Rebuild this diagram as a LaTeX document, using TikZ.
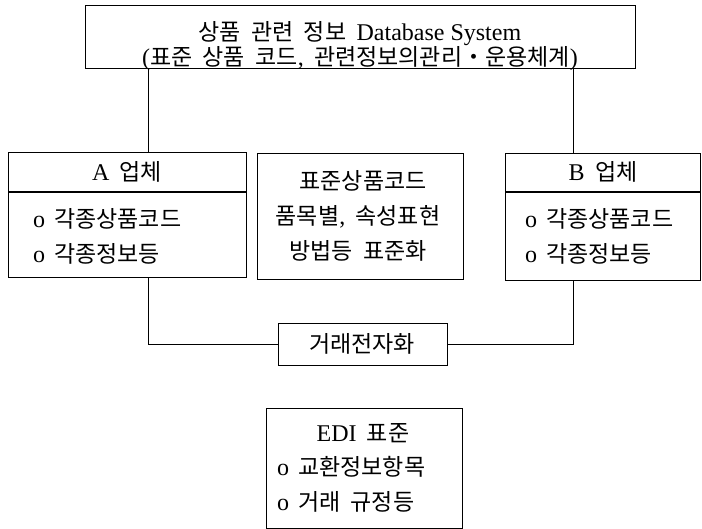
\documentclass[tikz,border=0pt]{standalone}
\usepackage{fontspec}
\setmainfont{Noto Sans CJK KR}[WordSpace=2]
\newfontfamily\latf{Liberation Serif}
\newcommand\lt[1]{{\latf\fontsize{24}{24}\selectfont #1}}
\begin{document}
\begin{tikzpicture}[x=1pt,y=-1pt,
  box/.style={draw, line width=1.3pt, inner sep=0, anchor=north west},
  conn/.style={line width=1pt},
  txt/.style={inner sep=0, font=\fontsize{23}{24.5}\selectfont},
  item/.style={txt, anchor=west}]
\useasboundingbox (0,0) rectangle (702,529);
% boxes
\node[box, minimum width=550pt, minimum height=63pt] (top) at (85,5) {};
\node[box, minimum width=238pt, minimum height=125pt] (A) at (8,152) {};
\node[box, minimum width=206pt, minimum height=126pt] (M) at (257,153) {};
\node[box, minimum width=195pt, minimum height=127pt] (B) at (505,153) {};
\node[box, minimum width=169pt, minimum height=42pt] (deal) at (278,323) {};
\node[box, minimum width=196pt, minimum height=120pt] (edi) at (266,408) {};
% header dividers
\coordinate (hd) at (0,192);
\draw[line width=1.3pt] (A.west |- hd) -- (A.east |- hd);
\draw[line width=1.3pt] (B.west |- hd) -- (B.east |- hd);
% connectors
\coordinate (la) at (148,0);
\coordinate (ra) at (573,0);
\draw[conn] (top.south -| la) -- (A.north -| la);
\draw[conn] (top.south -| ra) -- (B.north -| ra);
\draw[conn] (A.south -| la) |- (deal.west);
\draw[conn] (B.south -| ra) |- (deal.east);
% texts
\node[txt, align=center] (t1) at (360,46) {상품 관련 정보 \lt{Database System}\\\lt{(}표준 상품 코드\lt{,} 관련정보의관리・운용체계\lt{)}};
\node[txt] (ah) at (127,172) {\lt{A} 업체};
\node[item] (a1) at (33,219) {\lt{o}\hspace{9pt}각종상품코드};
\node[item] (a2) at (33,254) {\lt{o}\hspace{9pt}각종정보등};
\node[txt] (bh) at (603,172) {\lt{B} 업체};
\node[item] (b1) at (525,219) {\lt{o}\hspace{9pt}각종상품코드};
\node[item] (b2) at (525,254) {\lt{o}\hspace{9pt}각종정보등};
\node[txt] (m1) at (363,181) {표준상품코드};
\node[txt] (m2) at (358,217) {품목별\lt{,} 속성표현};
\node[txt] (m3) at (358,251) {방법등 표준화};
\node[txt] (dt) at (362,344) {거래전자화};
\node[txt] (e0) at (363,433) {\lt{EDI} 표준};
\node[item] (e1) at (277,467) {\lt{o}\hspace{9pt}교환정보항목};
\node[item] (e2) at (277,502) {\lt{o}\hspace{9pt}거래 규정등};
\end{tikzpicture}
\end{document}
